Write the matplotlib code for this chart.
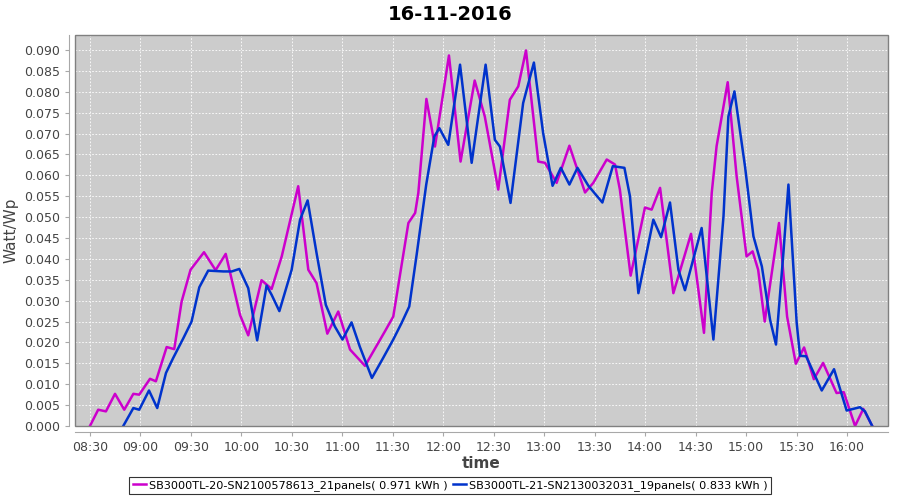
import matplotlib
matplotlib.use("Agg")
import matplotlib.pyplot as plt
from matplotlib.patches import Rectangle
from matplotlib.ticker import FuncFormatter, MultipleLocator

# time in minutes after 08:30, value in Watt/Wp
t_sb20 = [0, 4.9, 9.5, 14.9, 20.4, 25.8, 29.3, 35.7, 39.2, 45.6, 50.1, 54.5, 59.8,
          67.8, 74.7, 80.7, 89.2, 94.1, 102, 108, 114, 123.8, 129.8, 134.7, 141.1,
          147.6, 154.6, 163.5, 175.4, 180.3, 189.3, 193.3, 195.2, 200, 205.1, 213.4,
          220.3, 228.7, 234.7, 242.7, 249.6, 254.6, 259.2, 266.5, 270.5, 277.4, 285,
          294.3, 299.2, 307.2, 312.1, 315, 321.4, 329.9, 333.9, 338.9, 346.8, 357.3,
          365, 369.6, 372.5, 379.1, 384.4, 390.3, 393.9, 397.2, 401.1, 409.6, 414.4,
          419.6, 424.5, 430.3, 435.8, 443.8, 448.1, 454.8, 459.7, 465]
v_sb20 = [0.0, 0.0039, 0.0035, 0.0077, 0.0039, 0.0077, 0.0075, 0.0113, 0.0107, 0.0189,
          0.0184, 0.0298, 0.0374, 0.0416, 0.0373, 0.0412, 0.0266, 0.0217, 0.0349, 0.0328,
          0.0406, 0.0574, 0.0374, 0.0342, 0.0221, 0.0274, 0.0183, 0.0144, 0.0227, 0.0262,
          0.0486, 0.0510, 0.0558, 0.0783, 0.0669, 0.0887, 0.0633, 0.0827, 0.0741, 0.0566,
          0.0781, 0.0813, 0.0899, 0.0633, 0.0630, 0.0582, 0.0671, 0.0559, 0.0582, 0.0638,
          0.0626, 0.0566, 0.0360, 0.0523, 0.0518, 0.0570, 0.0318, 0.0460, 0.0223, 0.0558,
          0.0670, 0.0823, 0.0598, 0.0406, 0.0418, 0.0374, 0.0250, 0.0486, 0.0262, 0.0149,
          0.0188, 0.0112, 0.0151, 0.0079, 0.0081, 0.0, 0.0041, 0.0]

t_sb21 = [19.8, 25.8, 29.3, 35.1, 40, 45.2, 49.5, 55.5, 60.4, 65, 70.3, 79.3, 84.3,
          88.8, 94.1, 99.4, 105, 108, 112.6, 119.9, 124.9, 129.4, 134.7, 140.2, 145.6,
          150.1, 155.5, 160.4, 167.6, 174.3, 180.3, 185.3, 189.8, 194.2, 199.9, 204.7,
          207.7, 213, 220, 226.9, 235.2, 240.7, 243.7, 250, 257.5, 263.9, 269.4, 275,
          279.9, 285, 289.8, 296.3, 304.6, 310.8, 317.7, 321, 326, 334.9, 339.5, 344.8,
          349.8, 353.7, 363.6, 370.6, 376.6, 379.5, 383.1, 389.4, 394.4, 399.4, 404.3,
          407.8, 412.2, 415.2, 420.1, 422.1, 425.7, 435, 442.3, 449.8, 457.7, 460.7, 465]
v_sb21 = [0.0, 0.0043, 0.0039, 0.0085, 0.0043, 0.0127, 0.0163, 0.0210, 0.0250, 0.0332,
          0.0372, 0.0370, 0.0370, 0.0376, 0.0330, 0.0205, 0.0336, 0.0314, 0.0275, 0.0374,
          0.0494, 0.0540, 0.0414, 0.0290, 0.0238, 0.0207, 0.0248, 0.0190, 0.0115, 0.0163,
          0.0207, 0.0247, 0.0286, 0.0410, 0.0578, 0.0693, 0.0713, 0.0673, 0.0865, 0.0630,
          0.0865, 0.0685, 0.0669, 0.0534, 0.0773, 0.0870, 0.0701, 0.0575, 0.0618, 0.0578,
          0.0618, 0.0575, 0.0535, 0.0622, 0.0618, 0.0550, 0.0318, 0.0494, 0.0452, 0.0535,
          0.0374, 0.0325, 0.0474, 0.0207, 0.0502, 0.0741, 0.0801, 0.0621, 0.0454, 0.0382,
          0.0254, 0.0195, 0.0414, 0.0578, 0.0247, 0.0168, 0.0167, 0.0085, 0.0136, 0.0037,
          0.0045, 0.0035, 0.0]

label_sb20 = "SB3000TL-20-SN2100578613_21panels( 0.971 kWh )"
label_sb21 = "SB3000TL-21-SN2130032031_19panels( 0.833 kWh )"

start = 8 * 60 + 30
x20 = [start + t for t in t_sb20]
x21 = [start + t for t in t_sb21]

fig = plt.figure(figsize=(9, 5), dpi=100)
ax = fig.add_axes([0.0833, 0.148, 0.9034, 0.782])
ax.set_facecolor("#cccccc")

ax.plot(x20, v_sb20, color="#cc00cc", lw=1.8, label=label_sb20, solid_joinstyle="round")
ax.plot(x21, v_sb21, color="#0033cc", lw=1.8, label=label_sb21, solid_joinstyle="round")

ax.set_xlim(start - 8.9, start + 474.4)
ax.set_ylim(0, 0.0936)
ax.xaxis.set_major_locator(MultipleLocator(30))
ax.xaxis.set_major_formatter(FuncFormatter(lambda v, p: "%02d:%02d" % (v // 60, v % 60)))
ax.yaxis.set_major_locator(MultipleLocator(0.005))
ax.yaxis.set_major_formatter(FuncFormatter(lambda v, p: "%.3f" % v))

ax.grid(True, color="white", lw=0.6, ls=(0, (2, 2)))
ax.set_axisbelow(True)

for s in ["top", "right"]:
    ax.spines[s].set_visible(False)
for s in ["left", "bottom"]:
    ax.spines[s].set_position(("outward", 4))
    ax.spines[s].set_color("#a8a8a8")
ax.add_patch(Rectangle((0, 0), 1, 1, transform=ax.transAxes, fill=False,
                       edgecolor="#808080", lw=1, clip_on=False, zorder=5))
ax.tick_params(colors="#a8a8a8", labelcolor="#444444", labelsize=9, length=3)

ax.set_xlabel("time", fontsize=11, color="#444444", fontweight="bold", labelpad=2)
ax.set_ylabel("Watt/Wp", fontsize=11, color="#444444", labelpad=4)
fig.suptitle("16-11-2016", fontsize=14, fontweight="bold", y=0.99)

leg = fig.legend(loc="lower center", bbox_to_anchor=(0.5, 0.0), ncol=2, fontsize=8.1,
                 frameon=True, fancybox=False, edgecolor="black", handlelength=1.2,
                 handletextpad=0.2, columnspacing=0.5, borderpad=0.3)
leg.get_frame().set_linewidth(0.8)

fig.savefig("out.png", dpi=100)
